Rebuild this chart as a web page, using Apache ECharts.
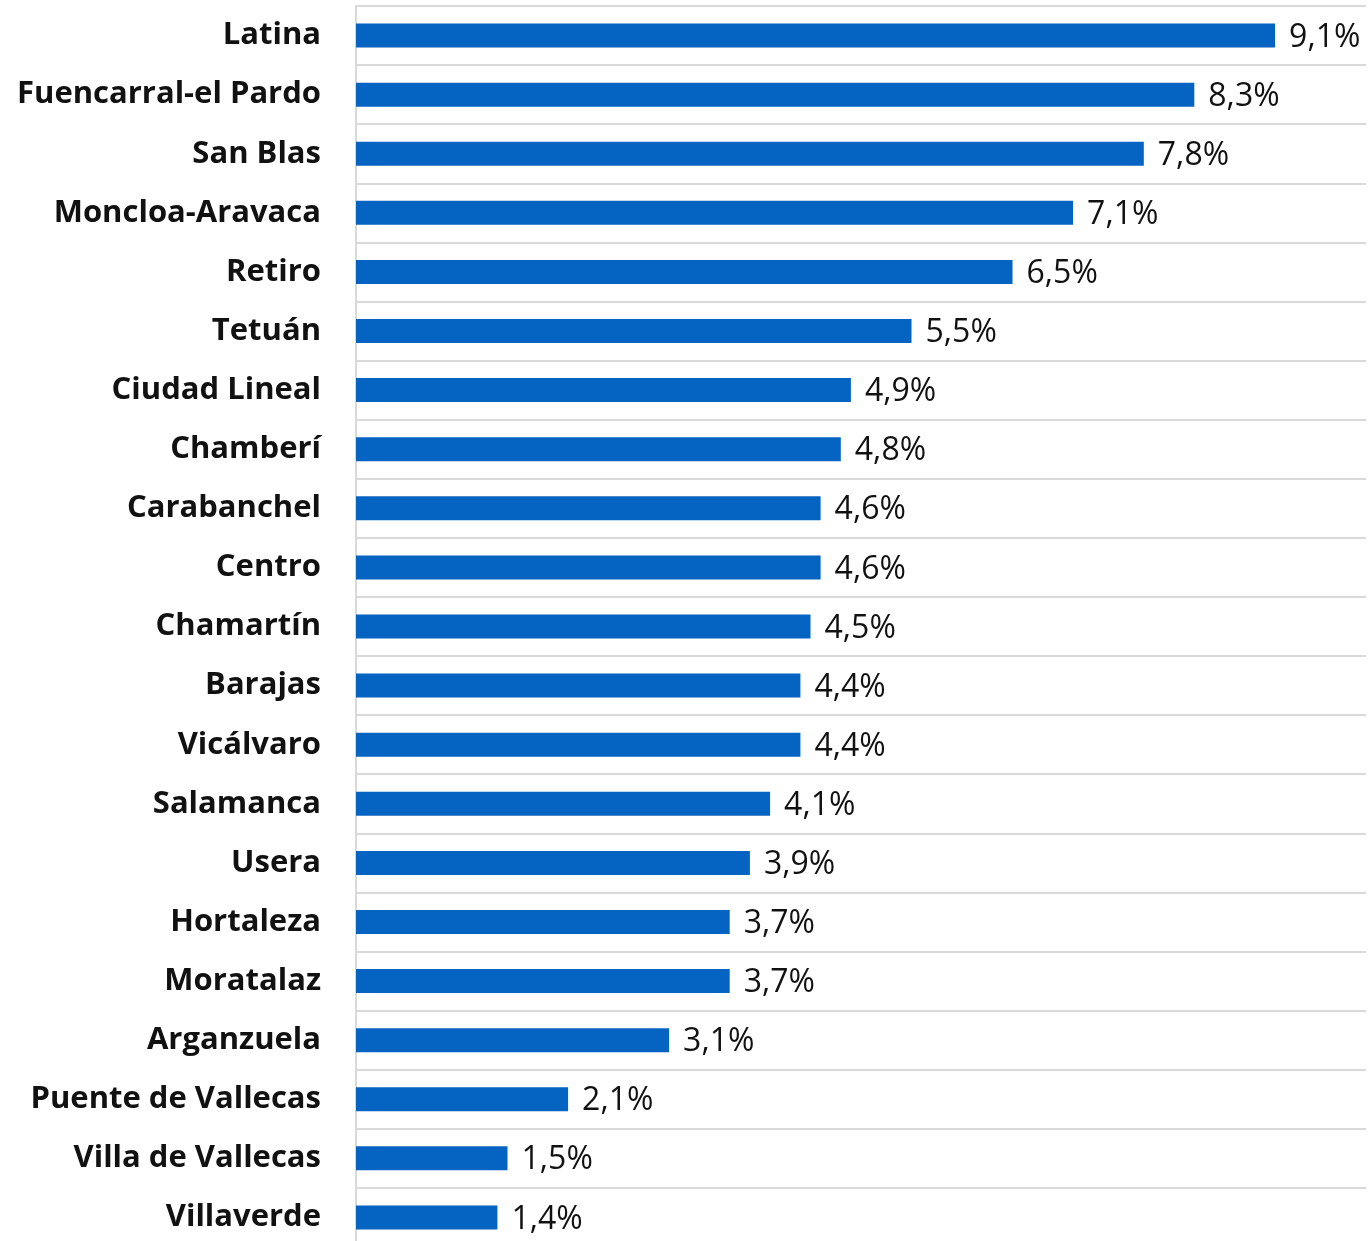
<!DOCTYPE html>
<html>
<head>
<meta charset="utf-8">
<script src="https://cdn.jsdelivr.net/npm/echarts@6/dist/echarts.min.js"></script>
<style>
html,body{margin:0;padding:0;background:#fff;}
#chart{width:1370px;height:1241px;}
</style>
</head>
<body>
<div id="chart"></div>
<script>
const categories = ["Latina","Fuencarral-el Pardo","San Blas","Moncloa-Aravaca","Retiro","Tetuán","Ciudad Lineal","Chamberí","Carabanchel","Centro","Chamartín","Barajas","Vicálvaro","Salamanca","Usera","Hortaleza","Moratalaz","Arganzuela","Puente de Vallecas","Villa de Vallecas","Villaverde"];
const values = [9.1,8.3,7.8,7.1,6.5,5.5,4.9,4.8,4.6,4.6,4.5,4.4,4.4,4.1,3.9,3.7,3.7,3.1,2.1,1.5,1.4];

const chart = echarts.init(document.getElementById('chart'), null, {renderer:'canvas'});
chart.setOption({
  animation:false,
  backgroundColor:'#ffffff',
  grid:{left:356, top:6, right:4, bottom:-6, containLabel:false, outerBoundsMode:'none'},
  xAxis:{type:'value', min:0, max:10, show:false},
  yAxis:{
    type:'category', data:categories, inverse:true,
    axisLine:{show:true, lineStyle:{color:'#d9d9d9', width:2}},
    axisTick:{show:false},
    splitLine:{show:true, lineStyle:{color:'#d9d9d9', width:2}},
    axisLabel:{margin:35, fontFamily:'Open Sans', fontWeight:'bold', fontSize:31, color:'#111111'}
  },
  series:[{
    type:'bar', data:values, barWidth:24,
    itemStyle:{color:'#0563C1'},
    label:{show:true, position:'right', distance:14, fontFamily:'Open Sans', fontSize:32, color:'#111111', offset:[0,2],
      formatter:p=>String(p.value).replace('.',',')+'%'}
  }]
});
</script>
</body>
</html>
